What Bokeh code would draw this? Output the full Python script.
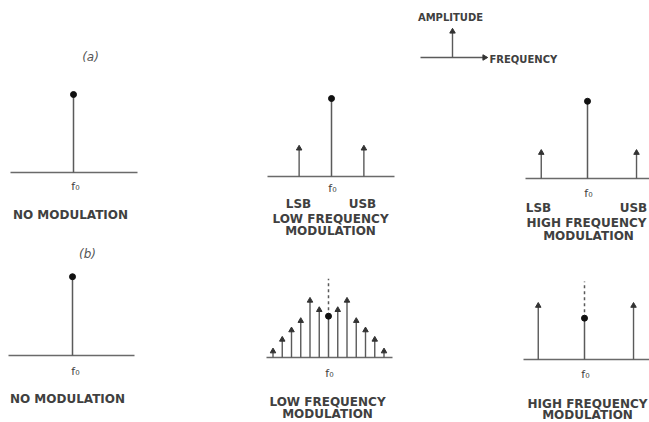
from bokeh.plotting import figure
from bokeh.layouts import column, row
from bokeh.models import Range1d
from bokeh.embed import file_html
from bokeh.resources import INLINE
from bokeh.core.properties import value
import math

# ---------------- data (frequency offset from carrier f0, relative amplitude) ----------------
# (a) amplitude modulation
a1_side_freq = []
a1_side_amp = []
a1_carrier_amp = 1.0

a2_side_freq = [-3.5, 3.5]
a2_side_amp = [0.36, 0.36]
a2_carrier_amp = 1.0

a3_side_freq = [-5.0, 5.3]
a3_side_amp = [0.33, 0.33]
a3_carrier_amp = 0.99

# (b) frequency modulation
b1_side_freq = []
b1_side_amp = []
b1_carrier_amp = 1.01

b2_side_freq = [-6, -5, -4, -3, -2, -1, 1, 2, 3, 4, 5, 6]
b2_side_amp = [0.08, 0.23, 0.35, 0.47, 0.73, 0.61, 0.61, 0.73, 0.47, 0.35, 0.23, 0.08]
b2_carrier_amp = 0.53
b2_unmod_amp = 1.01

b3_side_freq = [-5.0, 5.3]
b3_side_amp = [0.69, 0.69]
b3_carrier_amp = 0.53
b3_unmod_amp = 1.0

# ---------------- layout / style ----------------
SX, SY = 9.25, 78.0
COL_LEFT = [0, 200, 400]
COL_W = [200, 200, 249]
ROW_TOP = [0, 244]
ROW_H = [244, 178]

STEM = "#5a5a5a"
TXT = "#404040"
FONT = value("DejaVu Sans")


class Panel:
    def __init__(self, c, r, cx, by):
        self.cx, self.by = cx, by
        left, top, w, h = COL_LEFT[c], ROW_TOP[r], COL_W[c], ROW_H[r]
        self.p = figure(width=w, height=h,
                        x_range=Range1d((left - cx) / SX, (left + w - cx) / SX),
                        y_range=Range1d((by - (top + h)) / SY, (by - top) / SY),
                        x_axis_type=None, y_axis_type=None,
                        output_backend="svg", toolbar_location=None,
                        min_border=0, outline_line_color=None,
                        background_fill_color="white", border_fill_color="white")

    def px(self, x, y):
        return (x - self.cx) / SX, (self.by - y) / SY

    def baseline(self, x0, x1):
        a, _ = self.px(x0, 0)
        b, _ = self.px(x1, 0)
        self.p.segment(x0=[a], y0=[0], x1=[b], y1=[0], line_color="#6a6a6a", line_width=1.4)

    def spectrum(self, side_f, side_a, carrier_a, unmod=None):
        p = self.p
        if unmod is not None:
            p.segment(x0=[0], y0=[carrier_a], x1=[0], y1=[unmod], line_color=STEM,
                      line_width=1.5, line_dash="3 3")
        if side_f:
            p.segment(x0=side_f, y0=[0] * len(side_f), x1=side_f, y1=side_a,
                      line_color=STEM, line_width=1.4)
            p.scatter(x=side_f, y=side_a, marker="triangle", size=5.5,
                      fill_color="#333333", line_color="#333333")
        p.segment(x0=[0], y0=[0], x1=[0], y1=[carrier_a], line_color=STEM, line_width=1.5)
        p.scatter(x=[0], y=[carrier_a], marker="circle", size=6,
                  fill_color="#111111", line_color="#111111")

    def label(self, x, y, t, size="12px", style="bold", align="center", color=TXT):
        dx, dy = self.px(x, y)
        self.p.text(x=[dx], y=[dy], text=[t], text_font=FONT, text_font_size=size,
                    text_font_style=style, text_align=align, text_baseline="middle",
                    text_color=color)


# ---- top row (a) ----
a1 = Panel(0, 0, 73, 172)
a1.baseline(10, 137)
a1.spectrum(a1_side_freq, a1_side_amp, a1_carrier_amp)
a1.label(90, 56, "(a)", size="12px", style="italic", color="#555555")
a1.label(75, 186, "f\u2080", size="11px", style="normal")
a1.label(70, 214, "NO MODULATION")

a2 = Panel(1, 0, 331, 176)
a2.baseline(267, 394)
a2.spectrum(a2_side_freq, a2_side_amp, a2_carrier_amp)
a2.label(332, 188, "f\u2080", size="11px", style="normal")
a2.label(298, 203, "LSB")
a2.label(362, 203, "USB")
a2.label(330, 218, "LOW FREQUENCY")
a2.label(330, 230, "MODULATION")

a3 = Panel(2, 0, 587, 178)
a3.baseline(525, 649)
a3.spectrum(a3_side_freq, a3_side_amp, a3_carrier_amp)
a3.label(588, 193, "f\u2080", size="11px", style="normal")
a3.label(538, 207, "LSB")
a3.label(633, 207, "USB")
a3.label(586, 222, "HIGH FREQUENCY")
a3.label(588, 235, "MODULATION")

# key: amplitude / frequency axes
lp = a3.p
vx, vy0 = a3.px(452, 57)
_, vy1 = a3.px(452, 31)
hx0, hy = a3.px(420, 57)
hx1, _ = a3.px(484, 57)
lp.segment(x0=[vx, hx0], y0=[vy0, hy], x1=[vx, hx1], y1=[vy1, hy], line_color=STEM, line_width=1.4)
lp.scatter(x=[vx], y=[vy1], marker="triangle", size=5.5, fill_color="#333333", line_color="#333333")
lp.scatter(x=[hx1], y=[hy], marker="triangle", size=5.5, angle=-math.pi / 2,
           fill_color="#333333", line_color="#333333")
a3.label(450, 17, "AMPLITUDE", size="10px")
a3.label(489, 59, "FREQUENCY", size="10px", align="left")

# ---- bottom row (b) ----
b1 = Panel(0, 1, 72, 355)
b1.baseline(8, 134)
b1.spectrum(b1_side_freq, b1_side_amp, b1_carrier_amp)
b1.label(87, 253, "(b)", size="12px", style="italic", color="#555555")
b1.label(75, 371, "f\u2080", size="11px", style="normal")
b1.label(67, 398, "NO MODULATION")

b2 = Panel(1, 1, 328, 357)
b2.baseline(266, 392)
b2.spectrum(b2_side_freq, b2_side_amp, b2_carrier_amp, b2_unmod_amp)
b2.label(329, 373, "f\u2080", size="11px", style="normal")
b2.label(327, 401, "LOW FREQUENCY")
b2.label(327, 413, "MODULATION")

b3 = Panel(2, 1, 584, 359)
b3.baseline(523, 649)
b3.spectrum(b3_side_freq, b3_side_amp, b3_carrier_amp, b3_unmod_amp)
b3.label(585, 374, "f\u2080", size="11px", style="normal")
b3.label(587, 403, "HIGH FREQUENCY")
b3.label(587, 414, "MODULATION")

layout = column(row(a1.p, a2.p, a3.p, spacing=0),
                row(b1.p, b2.p, b3.p, spacing=0), spacing=0)

open("out.html", "w").write(file_html(layout, INLINE))
